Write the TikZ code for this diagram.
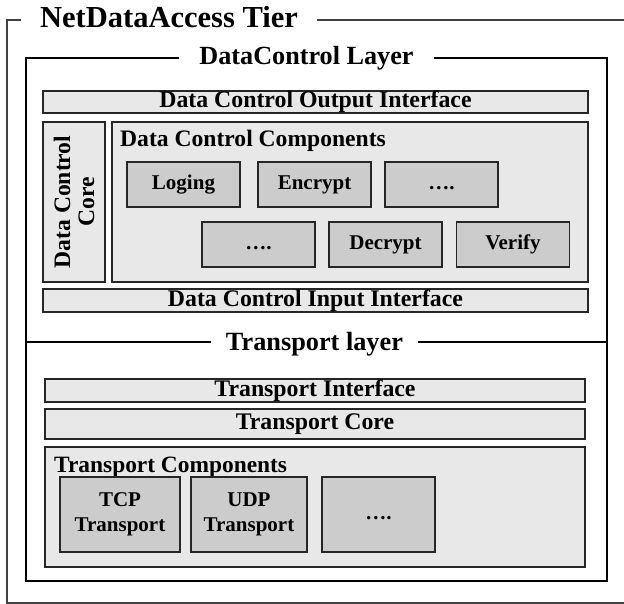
\documentclass[tikz,border=0pt]{standalone}
\usepackage{fontspec}
\setmainfont{Liberation Serif}
\begin{document}
\begin{tikzpicture}[x=1pt,y=-1pt,
  lbox/.style={draw=black!85,line width=1.3pt,fill=black!9,inner sep=0pt,font=\fontsize{23.8}{26}\selectfont\bfseries},
  cbox/.style={draw=black!85,line width=1.3pt,fill=black!20,inner sep=0pt,minimum width=113pt,minimum height=45pt,font=\fontsize{21}{25}\selectfont\bfseries,align=center},
  ttl/.style={fill=white,inner ysep=1pt,anchor=base},
  lbl/.style={inner sep=0pt,anchor=base west,font=\fontsize{23.6}{26}\selectfont\bfseries}]
\useasboundingbox (0,0) rectangle (624,604);
% outer tier frame
\draw[draw=black!75,line width=1.3pt] (7,20) rectangle (660,603);
\node[ttl,inner xsep=19pt,font=\fontsize{30.5}{32}\selectfont\bfseries] (tier) at (169,28) {NetDataAccess Tier};
% layer frame
\draw[line width=2.4pt] (26,58) rectangle (607,581);
\draw[line width=2.4pt] (26,342) -- (607,342);
\node[ttl,inner xsep=20pt,font=\fontsize{26.2}{28}\selectfont\bfseries] (dcl) at (306.5,65) {DataControl Layer};
\node[ttl,inner xsep=15pt,font=\fontsize{26.3}{28}\selectfont\bfseries] (tl) at (314.5,350) {Transport layer};
% data control
\node[lbox,minimum width=545pt,minimum height=22pt] (out) at (315.5,102) {Data Control Output Interface};
\node[lbox,minimum width=160pt,minimum height=62pt,rotate=90,align=center,font=\fontsize{23.6}{24}\selectfont\bfseries] (core) at (74,202) {Data Control\\Core};
\node[lbox,minimum width=476pt,minimum height=160pt] (comp) at (350,202) {};
\node[lbl] (compl) at (120,146.5) {Data Control Components};
\node[cbox] (log) at (183.5,184.5) {Loging};
\node[cbox] (enc) at (314.5,184.5) {Encrypt};
\node[cbox] (d1) at (441.5,184.5) {\vphantom{Tg}….};
\node[cbox] (d2) at (258.5,244.5) {\vphantom{Tg}….};
\node[cbox] (dec) at (385.5,244.5) {Decrypt};
\node[cbox] (ver) at (513,244.5) {Verify};
\node[lbox,minimum width=545pt,minimum height=23pt] (in) at (315.5,300.5) {Data Control Input Interface};
% transport
\node[lbox,minimum width=540pt,minimum height=23pt] (tint) at (315,390.5) {Transport Interface};
\node[lbox,minimum width=540pt,minimum height=30pt] (tcore) at (315,424) {Transport Core};
\node[lbox,minimum width=540pt,minimum height=120pt] (tcomp) at (315,507) {};
\node[lbl,font=\fontsize{23.4}{26}\selectfont\bfseries] (tcompl) at (54,472) {Transport Components};
\node[cbox,minimum width=120pt,minimum height=75pt] (tcp) at (120,514.5) {TCP\\Transport};
\node[cbox,minimum width=116pt,minimum height=75pt] (udp) at (249,514.5) {UDP\\Transport};
\node[cbox,minimum width=113pt,minimum height=75pt] (d3) at (378.5,514.5) {\vphantom{Tg}….};
\end{tikzpicture}
\end{document}
